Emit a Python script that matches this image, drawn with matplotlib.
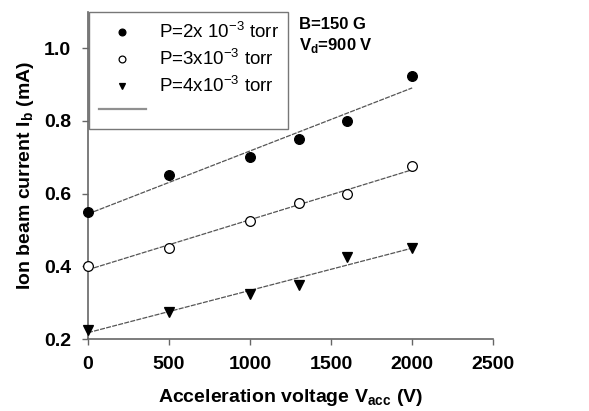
import numpy as np
import matplotlib.pyplot as plt

plt.rcParams['font.family'] = ['Liberation Sans', 'DejaVu Sans']
plt.rcParams['mathtext.fontset'] = 'custom'
plt.rcParams['mathtext.rm'] = 'Liberation Sans'
plt.rcParams['mathtext.bf'] = 'Liberation Sans:bold'

# acceleration voltage (V)
vacc = [0, 500, 1000, 1300, 1600, 2000]
# ion beam current (mA) for each pressure
ib_p2 = [0.55, 0.65, 0.70, 0.75, 0.80, 0.925]
ib_p3 = [0.40, 0.45, 0.525, 0.575, 0.60, 0.675]
ib_p4 = [0.225, 0.275, 0.325, 0.35, 0.425, 0.45]

labels = [r'P=2x 10$^{-3}$ torr', r'P=3x10$^{-3}$ torr', r'P=4x10$^{-3}$ torr']

fig = plt.figure(figsize=(5.89, 4.11), dpi=100)
ax = fig.add_axes([0.1494, 0.175, 0.688, 0.796])

x = np.array(vacc)
handles = []
for ys, mk, fc, lab in [(ib_p2, 'o', 'black', labels[0]),
                        (ib_p3, 'o', 'white', labels[1]),
                        (ib_p4, 'v', 'black', labels[2])]:
    h, = ax.plot(x, ys, mk, ms=7, mfc=fc, mec='black', mew=0.9,
                 linestyle='none', label=lab, clip_on=False, zorder=3)
    handles.append(h)
    # linear fit
    k, b = np.polyfit(x, ys, 1)
    ax.plot([0, 2000], [b, k * 2000 + b], color='#555555', lw=0.9,
            dashes=(4, 1), zorder=2)

line_h, = ax.plot([], [], color='#909090', lw=1.6)
handles.append(line_h)

ax.set_xlim(0, 2500)
ax.set_ylim(0.2, 1.1)
ax.set_xticks([0, 500, 1000, 1500, 2000, 2500])
ax.set_yticks([0.2, 0.4, 0.6, 0.8, 1.0])
ax.set_yticklabels(['0.2', '0.4', '0.6', '0.8', '1.0'])

for s in ['top', 'right']:
    ax.spines[s].set_visible(False)
for s in ['left', 'bottom']:
    ax.spines[s].set_color('#666666')
    ax.spines[s].set_linewidth(1.2)

ax.tick_params(direction='out', length=4, width=1, color='#666666',
               labelsize=14, pad=8)
for t in ax.get_xticklabels() + ax.get_yticklabels():
    t.set_fontweight('bold')

ax.set_xlabel(r'Acceleration voltage V$_\mathbf{acc}$ (V)', fontsize=14,
              fontweight='bold', labelpad=10)
ax.set_ylabel(r'Ion beam current I$_\mathbf{b}$ (mA)', fontsize=14,
              fontweight='bold', labelpad=6)

leg = ax.legend(handles, labels + [''], loc='upper left', fontsize=13.5,
                frameon=True, fancybox=False, borderpad=0.5,
                markerscale=0.7, handlelength=2.55, handletextpad=0.65,
                labelspacing=0.33, borderaxespad=0.0,
                bbox_to_anchor=(0.003, 1.0))
leg.get_frame().set_edgecolor('#555555')
leg.get_frame().set_linewidth(1.0)

ax.text(0.52, 0.985, 'B=150 G', transform=ax.transAxes, fontsize=12,
        fontweight='bold', va='top', ha='left')
ax.text(0.52, 0.925, r'V$_\mathbf{d}$=900 V', transform=ax.transAxes,
        fontsize=12, fontweight='bold', va='top', ha='left')

fig.savefig('out.png', dpi=100)
